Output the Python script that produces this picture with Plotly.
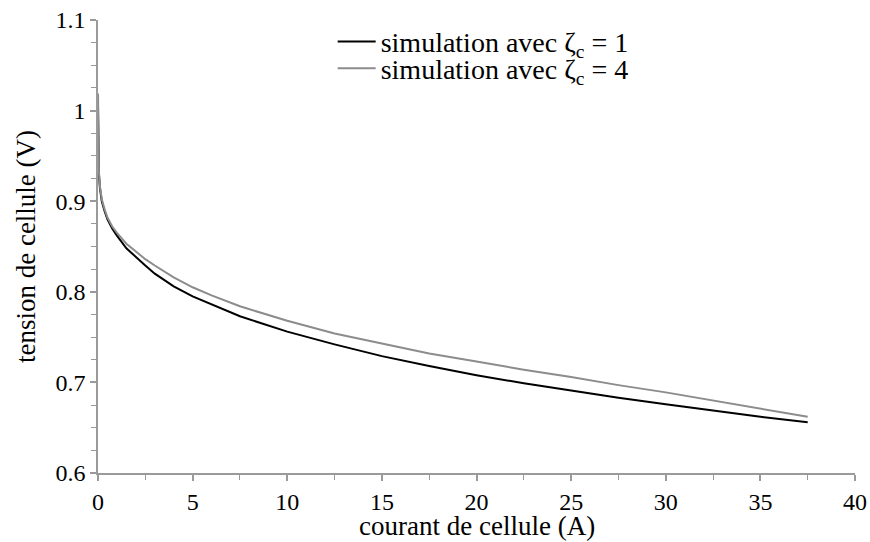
import plotly.graph_objects as go

# courant de cellule (A)
courant = [0, 0.02, 0.05, 0.1, 0.2, 0.35, 0.5, 0.75, 1, 1.5, 2, 2.5, 3, 4, 5, 6,
           7.5, 10, 12.5, 15, 17.5, 20, 22.5, 25, 27.5, 30, 32.5, 35, 37.5]

# tension de cellule (V), zeta_c = 1
tension_z1 = [1.004, 0.960, 0.930, 0.915, 0.900, 0.889, 0.880, 0.870, 0.862, 0.848,
              0.838, 0.829, 0.820, 0.806, 0.795, 0.786, 0.773, 0.756, 0.742, 0.729,
              0.718, 0.708, 0.699, 0.691, 0.683, 0.676, 0.669, 0.662, 0.656]

# tension de cellule (V), zeta_c = 4
tension_z4 = [1.019, 0.965, 0.932, 0.917, 0.902, 0.891, 0.882, 0.872, 0.865, 0.853,
              0.844, 0.836, 0.829, 0.816, 0.805, 0.796, 0.784, 0.768, 0.754, 0.743,
              0.732, 0.723, 0.714, 0.706, 0.697, 0.689, 0.680, 0.671, 0.662]

serif = "Liberation Serif"
axis_col = "#9a9a9a"

fig = go.Figure()
fig.add_trace(go.Scatter(
    x=courant, y=tension_z1, mode="lines",
    name="simulation avec ζ<sub>c</sub> = 1",
    line=dict(color="black", width=2), legend="legend"
))
fig.add_trace(go.Scatter(
    x=courant, y=tension_z4, mode="lines",
    name="simulation avec ζ<sub>c</sub> = 4",
    line=dict(color="#8c8c8c", width=2), legend="legend2"
))

leg = dict(xanchor="left", yanchor="middle", bgcolor="rgba(0,0,0,0)",
           font=dict(family=serif, size=28, color="black"), itemwidth=38)

fig.update_layout(
    width=870, height=542,
    margin=dict(l=98, r=15, t=20, b=69),
    plot_bgcolor="white", paper_bgcolor="white",
    font=dict(family=serif, size=24, color="black"),
    showlegend=True,
    legend=dict(x=0.31, y=0.952, **leg),
    legend2=dict(x=0.31, y=0.893, **leg),
    xaxis=dict(
        range=[0, 40], dtick=5, tick0=0, automargin=False,
        showgrid=False, zeroline=False,
        showline=True, linecolor=axis_col, linewidth=1.5,
        ticks="outside", ticklen=6, tickcolor=axis_col, tickwidth=1.5,
        tickfont=dict(family=serif, size=24, color="black"),
        minor=dict(ticks="outside", dtick=2.5, ticklen=5, tickcolor=axis_col, tickwidth=1),
    ),
    yaxis=dict(
        range=[0.6, 1.1], dtick=0.1, tick0=0.6, automargin=False,
        showgrid=False, zeroline=False,
        showline=True, linecolor=axis_col, linewidth=1.5,
        ticks="outside", ticklen=6, tickcolor=axis_col, tickwidth=1.5,
        tickfont=dict(family=serif, size=24, color="black"),
        minor=dict(ticks="outside", dtick=0.025, ticklen=5, tickcolor=axis_col, tickwidth=1),
        title=dict(text="tension de cellule (V)", standoff=12,
                   font=dict(family=serif, size=27, color="black")),
    ),
)

# x title as an annotation, sits a little closer to the tick labels than plotly's default
fig.add_annotation(
    text="courant de cellule (A)", xref="paper", yref="paper",
    x=0.5, y=-0.116, xanchor="center", yanchor="middle", showarrow=False,
    font=dict(family=serif, size=27, color="black")
)

# drop the default 8px body margin so the figure fills the window exactly
fig.write_html("out.html", config={"displayModeBar": False},
               post_script="document.body.style.margin='0';document.body.style.overflow='hidden';")
